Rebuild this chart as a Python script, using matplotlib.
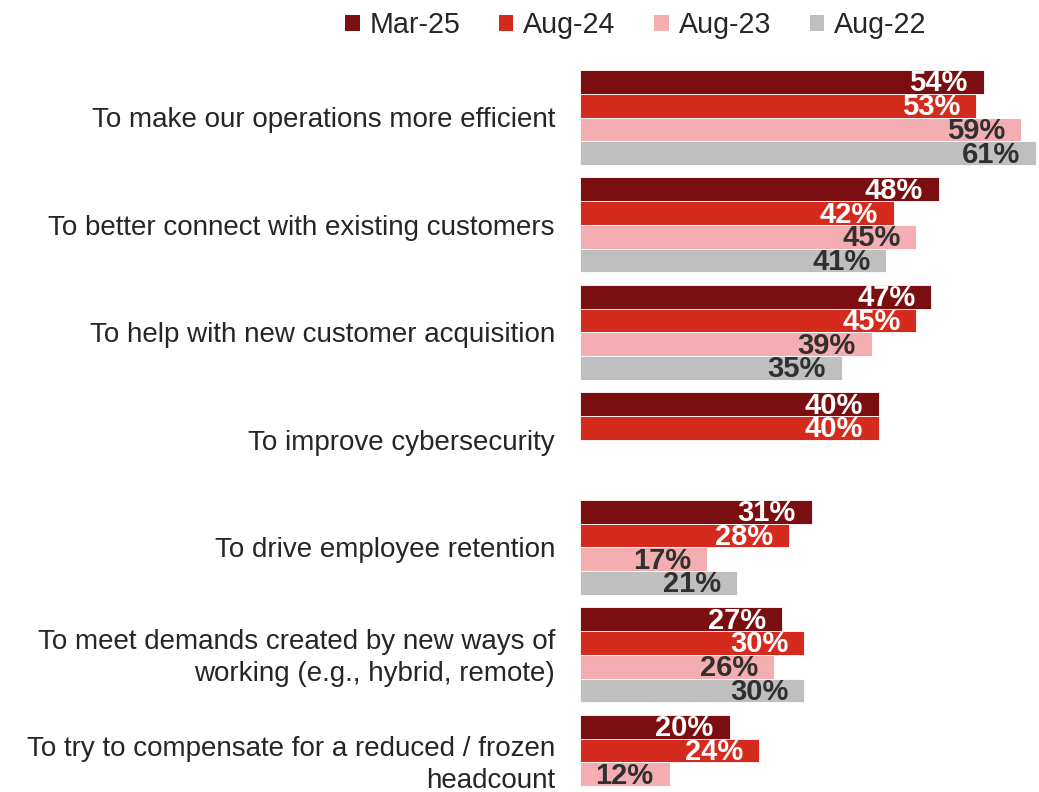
import matplotlib
matplotlib.use('Agg')
import matplotlib.pyplot as plt
from matplotlib.patches import Patch

plt.rcParams['font.family'] = ['Liberation Sans', 'DejaVu Sans']

categories = ['To make our operations more efficient',
              'To better connect with existing customers',
              'To help with new customer acquisition',
              'To improve cybersecurity',
              'To drive employee retention',
              'To meet demands created by new ways of\nworking (e.g., hybrid, remote)',
              'To try to compensate for a reduced / frozen\nheadcount']

series = ['Mar-25', 'Aug-24', 'Aug-23', 'Aug-22']
mar25 = [54, 48, 47, 40, 31, 27, 20]
aug24 = [53, 42, 45, 40, 28, 30, 24]
aug23 = [59, 45, 39, None, 17, 26, 12]
aug22 = [61, 41, 35, None, 21, 30, None]

colors = ['#7B0E10', '#D52B1E', '#F4ADB0', '#BFBFBF']
label_colors = ['white', 'white', '#303030', '#303030']

mydpi = 100
fig = plt.figure(figsize=(1039/mydpi, 792/mydpi), dpi=mydpi)
ax = fig.add_axes([580/1039, 0, 459/1039, 722/792])

pitch = 4.526   # group spacing in bar heights
for j, values in enumerate([mar25, aug24, aug23, aug22]):
    for g, v in enumerate(values):
        if v is None:
            continue
        y = g*pitch + j + 0.5
        ax.barh(y, v, height=1.0, color=colors[j], edgecolor='white', linewidth=0.6)
        ax.annotate('%d%%' % v, xy=(v, y), xytext=(-11.5, -1), textcoords='offset points',
                    ha='right', va='center', fontsize=21, fontweight='bold',
                    color=label_colors[j])

for g, cat in enumerate(categories):
    ax.annotate(cat, xy=(0, g*pitch + 2), xytext=(-18, -2), textcoords='offset points',
                ha='right', va='center', fontsize=20, color='#262626',
                linespacing=1.3, annotation_clip=False)

ax.set_xlim(0, 61.4)
ax.set_ylim(722/23.75, 0)
ax.axis('off')

handles = [Patch(facecolor=c, edgecolor='none') for c in colors]
fig.legend(handles, series, loc='upper center', bbox_to_anchor=(0.612, 1.018), ncol=4,
           frameon=False, fontsize=20.6, handlelength=0.5, handleheight=0.5,
           handletextpad=0.35, columnspacing=1.35, labelcolor='#262626')

plt.savefig('out.png', dpi=mydpi, facecolor='white')
